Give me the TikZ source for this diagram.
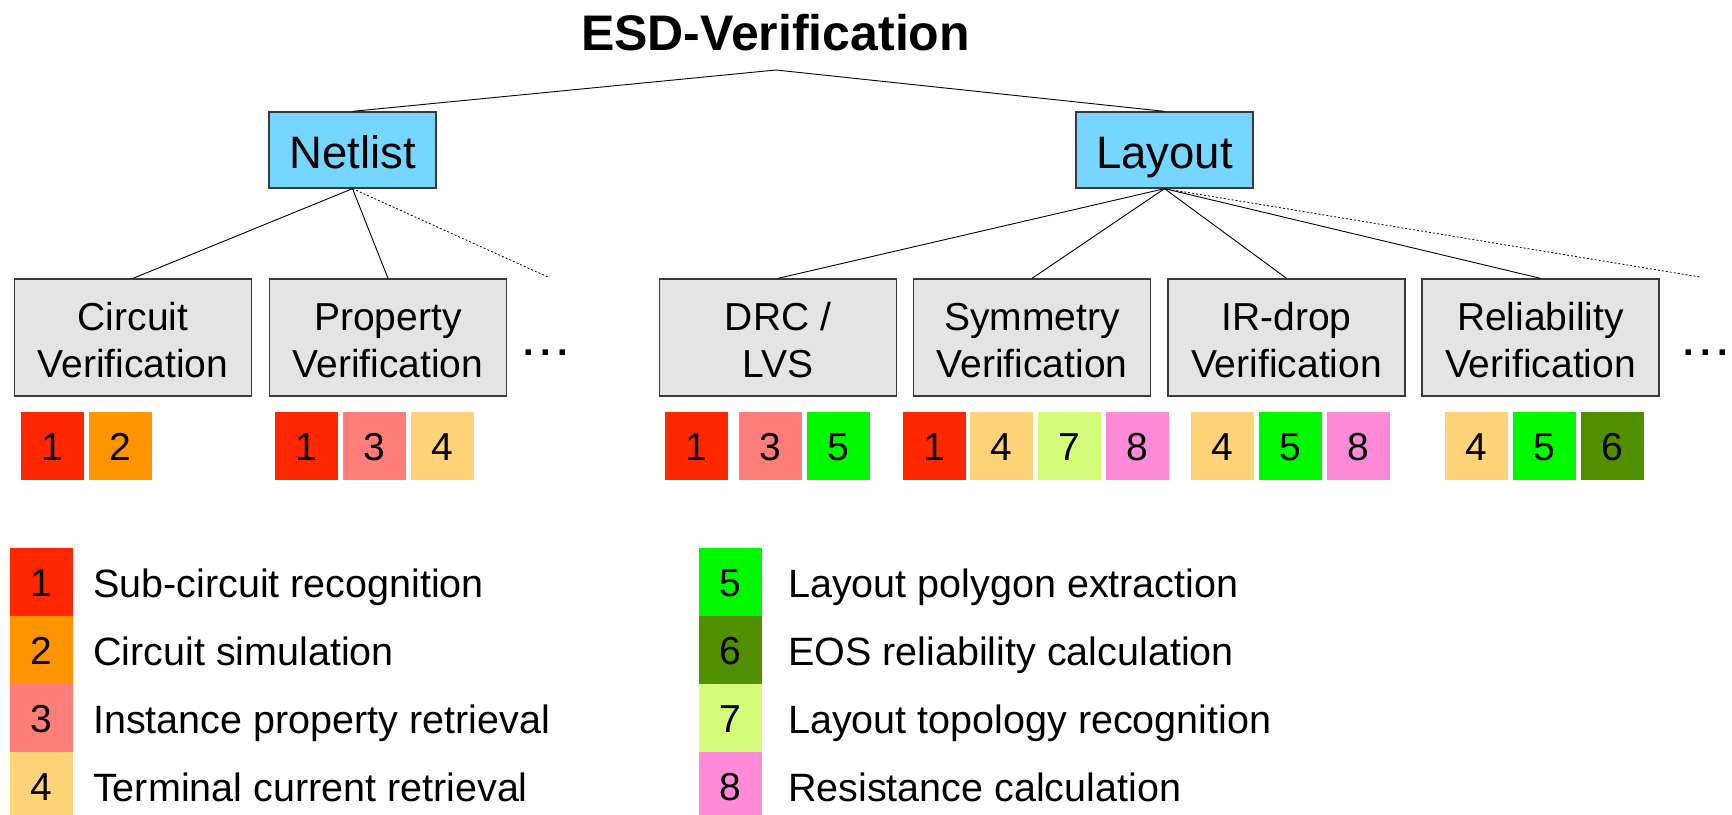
\documentclass[tikz,border=0pt]{standalone}
\usepackage{fontspec}
\setmainfont{Liberation Sans}

% crayon palette used for the task tags
\definecolor{tagA}{HTML}{FF2600}
\definecolor{tagB}{HTML}{FF9300}
\definecolor{tagC}{HTML}{FF7E79}
\definecolor{tagD}{HTML}{FFD479}
\definecolor{tagE}{HTML}{00F900}
\definecolor{tagF}{HTML}{4F8F00}
\definecolor{tagG}{HTML}{D4FB79}
\definecolor{tagH}{HTML}{FF8AD8}
\definecolor{skyfill}{HTML}{76D6FF}
\definecolor{catfill}{HTML}{E4E4E4}
\definecolor{edge}{HTML}{3A3A3A}

% strut that fixes the height of the first line in a category box
\newcommand{\firstline}{\rule{0pt}{34pt}}
% three spread-out dots for the open branches
\newcommand{\openmark}{.\kern6.4pt.\kern6.4pt.}

\begin{document}
\begin{tikzpicture}[x=1pt,y=-1pt,
  titlefont/.style={font=\fontsize{50}{60}\selectfont\bfseries},
  rootbox/.style={draw=edge, line width=1.3pt, fill=skyfill, inner sep=0pt,
    minimum height=76pt, text height=36pt, text depth=0pt,
    font=\fontsize{45.5}{52}\selectfont},
  catbox/.style={draw=edge, line width=1.3pt, fill=catfill, inner sep=0pt,
    minimum width=237pt, minimum height=117pt, align=center,
    font=\fontsize{39}{47}\selectfont},
  tagsq/.style={inner sep=0pt, minimum width=63pt, minimum height=68pt,
    text height=28pt, text depth=0pt, font=\fontsize{39}{46}\selectfont},
  legtext/.style={anchor=west, inner sep=0pt, text height=28pt, text depth=0pt,
    font=\fontsize{39.5}{46}\selectfont},
  dotsnode/.style={anchor=base, inner sep=0pt, font=\fontsize{38}{46}\selectfont\bfseries},
  branch/.style={line width=0.9pt, black},
  morebranch/.style={line width=0.8pt, black, dash pattern=on 2pt off 2pt},
]
\useasboundingbox (0,0) rectangle (1732,814);

% title and tree apex
\node[titlefont, anchor=base, inner sep=0pt] (title) at (775.5,50) {ESD-Verification};
\coordinate (apex) at (776,70);

% first level
\node[rootbox, minimum width=167pt] (netlist) at (352.5,150) {Netlist};
\node[rootbox, minimum width=177pt] (layout) at (1164.5,150) {Layout};

% second level
\node[catbox] (circ) at (133,337.5) {\firstline Circuit\\Verification};
\node[catbox] (prop) at (388,337.5) {\firstline Property\\Verification};
\node[catbox] (drc)  at (778,337.5) {\firstline DRC /\\LVS};
\node[catbox] (sym)  at (1032,337.5) {\firstline Symmetry\\Verification};
\node[catbox] (ir)   at (1286.5,337.5) {\firstline IR-drop\\Verification};
\node[catbox] (rel)  at (1540.5,337.5) {\firstline Reliability\\Verification};

\node[dotsnode] (moreN) at (546,355) {\openmark};
\node[dotsnode] (moreL) at (1706,355) {\openmark};
\coordinate (openN) at (548,277);
\coordinate (openL) at (1700,277);

% connectors
\draw[branch] (netlist.north) -- (apex) -- (layout.north);
\draw[branch] (netlist.south) -- (circ.north);
\draw[branch] (netlist.south) -- (prop.north);
\draw[morebranch] (netlist.south) -- (openN);
\draw[branch] (layout.south) -- (drc.north);
\draw[branch] (layout.south) -- (sym.north);
\draw[branch] (layout.south) -- (ir.north);
\draw[branch] (layout.south) -- (rel.north);
\draw[morebranch] (layout.south) -- (openL);

% task tags below each verification
\foreach \nm/\x/\c/\t in {
  circA/52.5/tagA/1, circB/120.5/tagB/2,
  propA/306.5/tagA/1, propC/374.5/tagC/3, propD/442.5/tagD/4,
  drcA/696.5/tagA/1, drcC/770.5/tagC/3, drcE/838.5/tagE/5,
  symA/934.5/tagA/1, symD/1001.5/tagD/4, symG/1069.5/tagG/7, symH/1137.5/tagH/8,
  irD/1222.5/tagD/4, irE/1290.5/tagE/5, irH/1358.5/tagH/8,
  relD/1476.5/tagD/4, relE/1544.5/tagE/5, relF/1612.5/tagF/6}
  \node[tagsq, fill=\c] (\nm) at (\x,446) {\t};

% legend
\foreach \nm/\y/\c/\t/\txt in {
  legA/582/tagA/1/Sub-circuit recognition,
  legB/650/tagB/2/Circuit simulation,
  legC/718/tagC/3/Instance property retrieval,
  legD/786/tagD/4/Terminal current retrieval}{
  \node[tagsq, fill=\c] (\nm) at (41.5,\y) {\t};
  \node[legtext] (\nm-txt) at (93,\y+1) {\txt};
}
\foreach \nm/\y/\c/\t/\txt in {
  legE/582/tagE/5/Layout polygon extraction,
  legF/650/tagF/6/EOS reliability calculation,
  legG/718/tagG/7/Layout topology recognition,
  legH/786/tagH/8/Resistance calculation}{
  \node[tagsq, fill=\c] (\nm) at (730.5,\y) {\t};
  \node[legtext] (\nm-txt) at (788,\y+1) {\txt};
}
\end{tikzpicture}
\end{document}
